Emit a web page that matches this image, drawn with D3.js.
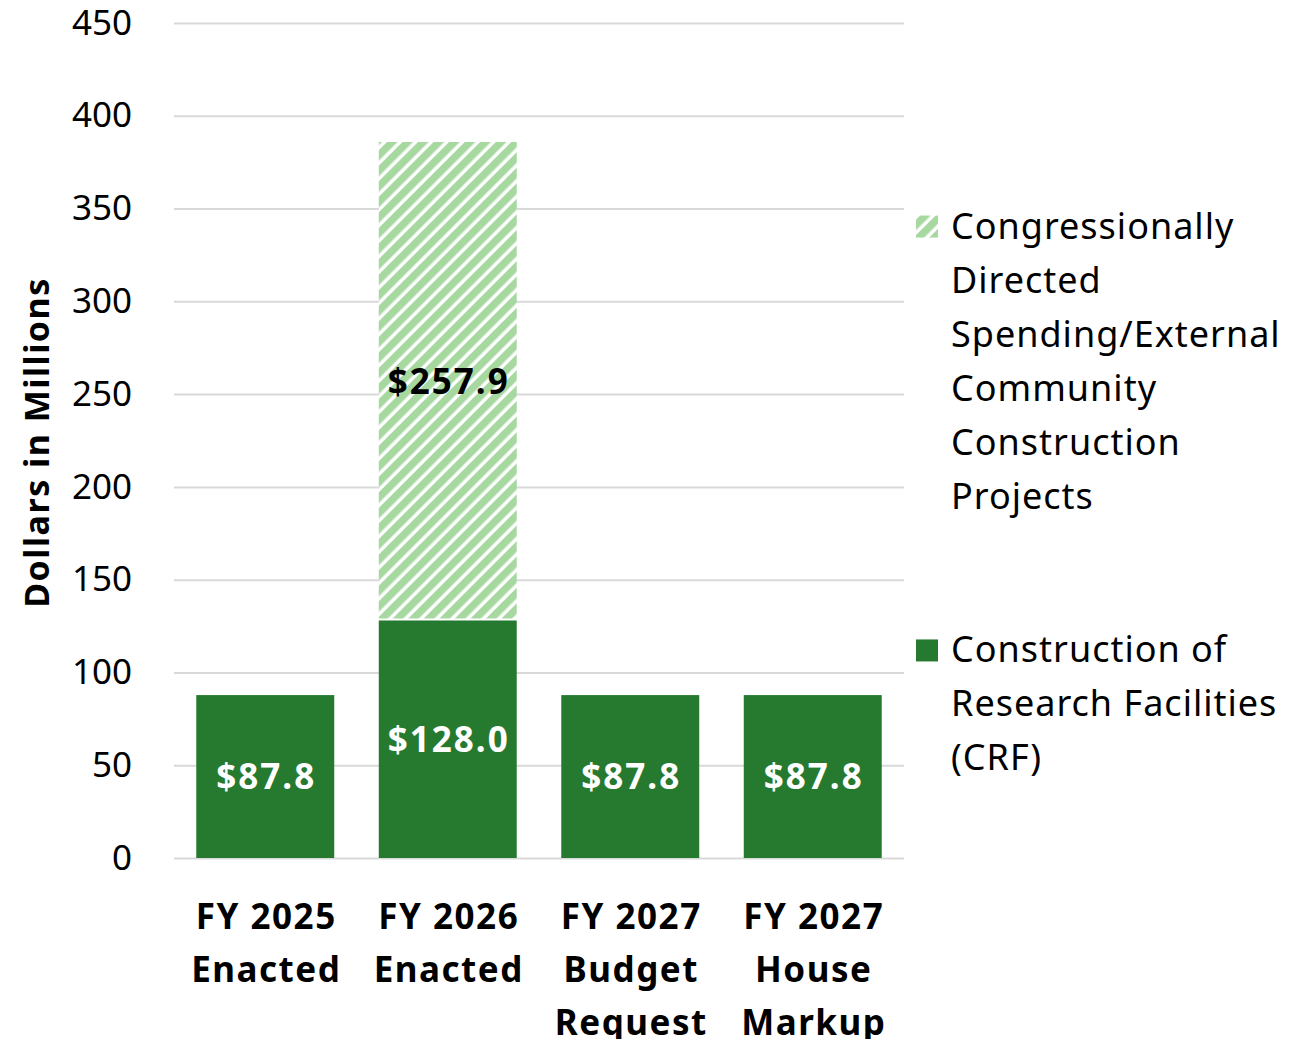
<!DOCTYPE html>
<html>
<head>
<meta charset="utf-8">
<script src="https://cdn.jsdelivr.net/npm/d3@7"></script>
<style>
  body { margin: 0; background: #fff; }
  text { font-family: "Noto Sans", sans-serif; }
</style>
</head>
<body>
<div id="chart"></div>
<script>
const categories = [
  ["FY 2025", "Enacted"],
  ["FY 2026", "Enacted"],
  ["FY 2027", "Budget", "Request"],
  ["FY 2027", "House", "Markup"]
];
const crf = [87.8, 128.0, 87.8, 87.8];
const cds = [0, 257.9, 0, 0];
const yTicks = [0, 50, 100, 150, 200, 250, 300, 350, 400, 450];
const legendLabels = [
  ["Congressionally", "Directed", "Spending/External", "Community", "Construction", "Projects"],
  ["Construction of", "Research Facilities", "(CRF)"]
];

const width = 1304, height = 1039;
const margin = { top: 23, right: 400, bottom: 181, left: 174 };
const dark = "#267a2f", light = "#a6d8a0";
const font = '"Noto Sans", sans-serif';

const svg = d3.select("#chart").append("svg")
  .attr("width", width).attr("height", height);

const defs = svg.append("defs");
const pat = defs.append("pattern")
  .attr("id", "hatch")
  .attr("patternUnits", "userSpaceOnUse")
  .attr("width", 11).attr("height", 11)
  .attr("patternTransform", "rotate(45)");
pat.append("rect").attr("width", 11).attr("height", 11).attr("fill", "#fff");
pat.append("rect").attr("width", 7.5).attr("height", 11).attr("fill", light);

const x = d3.scaleBand()
  .domain(d3.range(categories.length))
  .range([margin.left, width - margin.right])
  .paddingInner(0.244).paddingOuter(0.122);

const y = d3.scaleLinear()
  .domain([0, 450])
  .range([height - margin.bottom, margin.top]);

// gridlines + tick labels
svg.append("g")
  .attr("transform", `translate(${margin.left},0)`)
  .call(d3.axisLeft(y).tickValues(yTicks).tickSize(-(width - margin.right - margin.left)).tickPadding(42))
  .call(g => g.select(".domain").remove())
  .call(g => g.selectAll("line").attr("stroke", "#d9d9d9").attr("stroke-width", 2))
  .call(g => g.selectAll("text").attr("font-size", 35).attr("fill", "#000").style("font-family", font));

const rows = crf.map((v, i) => ({ i, crf: v, cds: cds[i] }));
const stacked = rows.filter(d => d.cds > 0);

// bars
const bars = svg.append("g");
bars.selectAll("rect.crf").data(rows).join("rect")
  .attr("x", d => x(d.i)).attr("width", x.bandwidth())
  .attr("y", d => y(d.crf)).attr("height", d => y(0) - y(d.crf))
  .attr("fill", dark);

bars.selectAll("rect.cds").data(stacked).join("rect")
  .attr("x", d => x(d.i)).attr("width", x.bandwidth())
  .attr("y", d => y(d.crf + d.cds)).attr("height", d => y(d.crf) - y(d.crf + d.cds) - 2)
  .attr("fill", "url(#hatch)");

// value labels
bars.selectAll("text.crf").data(rows).join("text")
  .attr("x", d => x(d.i) + x.bandwidth() / 2 + 1)
  .attr("y", d => y(d.crf / 2))
  .attr("dy", "0.36em")
  .attr("text-anchor", "middle")
  .attr("font-size", 35).attr("font-weight", "bold").attr("letter-spacing", 2).attr("fill", "#fff")
  .text(d => "$" + d.crf.toFixed(1));

bars.selectAll("text.cds").data(stacked).join("text")
  .attr("x", d => x(d.i) + x.bandwidth() / 2 + 1)
  .attr("y", d => y(d.crf + d.cds / 2))
  .attr("dy", "0.36em")
  .attr("text-anchor", "middle")
  .attr("font-size", 35).attr("font-weight", "bold").attr("letter-spacing", 2).attr("fill", "#000")
  .text(d => "$" + d.cds.toFixed(1));

// x labels
const xl = svg.append("g");
categories.forEach((lines, i) => {
  const t = xl.append("text")
    .attr("text-anchor", "middle")
    .attr("font-size", 35).attr("font-weight", "bold").attr("letter-spacing", 1.5);
  lines.forEach((l, j) => t.append("tspan")
    .attr("x", x(i) + x.bandwidth() / 2 + 1)
    .attr("y", 929 + j * 53).text(l));
});

// y title
svg.append("text")
  .attr("transform", `translate(49,${y(225) + 2}) rotate(-90)`)
  .attr("text-anchor", "middle")
  .attr("font-size", 34).attr("font-weight", "bold").attr("letter-spacing", 1.5)
  .text("Dollars in Millions");

// legend
const legend = svg.append("g");
const legendMid = [y(350) + 18, y(100) - 22];
const legendFill = ["url(#hatch)", dark];
legendLabels.forEach((lines, k) => {
  legend.append("rect")
    .attr("x", 916).attr("y", legendMid[k] - 11)
    .attr("width", 22).attr("height", 22)
    .attr("fill", legendFill[k]);
  const t = legend.append("text").attr("font-size", 36).attr("letter-spacing", 1);
  lines.forEach((l, j) => t.append("tspan")
    .attr("x", 951).attr("y", legendMid[k] + 12 + j * 54).text(l));
});
</script>
</body>
</html>
